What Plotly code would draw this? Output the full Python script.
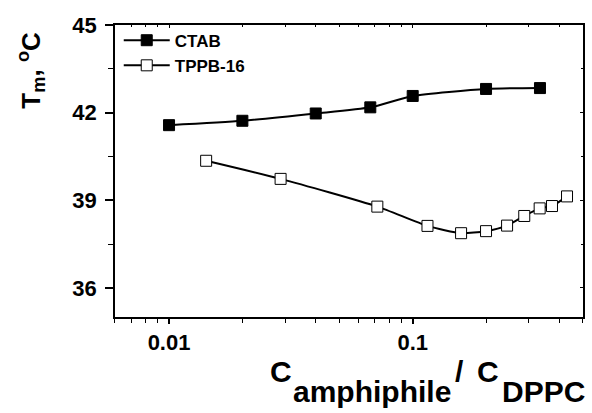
import plotly.graph_objects as go

ctab_x = [0.01, 0.02, 0.04, 0.067, 0.1, 0.2, 0.333]
ctab_y = [41.57, 41.72, 41.97, 42.18, 42.57, 42.81, 42.84]

tppb_x = [0.0142, 0.0287, 0.0716, 0.115, 0.158, 0.2, 0.244, 0.287, 0.332, 0.373, 0.43]
tppb_y = [40.35, 39.73, 38.78, 38.12, 37.87, 37.94, 38.13, 38.46, 38.72, 38.80, 39.13]

x_ticks = [0.01, 0.1]
x_ticklabels = ["0.01", "0.1"]
x_minor = [0.006, 0.007, 0.008, 0.009, 0.02, 0.03, 0.04, 0.05, 0.06, 0.07, 0.08, 0.09,
           0.2, 0.3, 0.4, 0.5]
y_ticks = [36, 39, 42, 45]
y_minor = [37.5, 40.5, 43.5]

FONT = "Liberation Sans, Arial, sans-serif"

fig = go.Figure()
fig.add_trace(go.Scatter(
    x=ctab_x, y=ctab_y, name="CTAB", mode="lines+markers",
    line=dict(color="black", width=2, shape="spline", smoothing=0.6),
    marker=dict(symbol="square", size=11, color="black", line=dict(color="black", width=1)),
))
fig.add_trace(go.Scatter(
    x=tppb_x, y=tppb_y, name="TPPB-16", mode="lines+markers",
    line=dict(color="black", width=2, shape="spline", smoothing=0.6),
    marker=dict(symbol="square", size=11, color="white", line=dict(color="black", width=1)),
))
# invisible trace for mirrored axes
fig.add_trace(go.Scatter(x=[0.01], y=[40], xaxis="x2", yaxis="y2", mode="markers",
                         marker=dict(opacity=0), showlegend=False, hoverinfo="skip"))

xr = [-2.2218, -0.301]
yr = [35, 45]

fig.update_layout(
    width=592, height=413,
    margin=dict(l=115, r=9, t=25, b=96),
    paper_bgcolor="white", plot_bgcolor="white",
    font=dict(family=FONT, color="black", size=22, weight="bold"),
    showlegend=True,
    legend=dict(x=0.008, y=1.008, xanchor="left", yanchor="top",
                bgcolor="rgba(0,0,0,0)", font=dict(size=17, weight="bold"),
                tracegroupgap=0, itemwidth=46),
    xaxis=dict(type="log", range=xr, tickvals=x_ticks, ticktext=x_ticklabels,
               ticks="outside", ticklen=5, tickwidth=1.5, tickcolor="black",
               showline=True, linecolor="black", linewidth=1.5, showgrid=False,
               zeroline=False,
               minor=dict(tickmode="array", tickvals=x_minor, ticks="outside",
                          ticklen=4, tickwidth=1, tickcolor="black", showgrid=False),
               tickfont=dict(size=22, weight="bold")),
    yaxis=dict(range=yr, tickvals=y_ticks,
               ticks="outside", ticklen=8, tickwidth=1.5, tickcolor="black",
               showline=True, linecolor="black", linewidth=1.5, showgrid=False,
               zeroline=False, ticklabelstandoff=4,
               minor=dict(tickmode="array", tickvals=y_minor, ticks="outside",
                          ticklen=5, tickwidth=1, tickcolor="black", showgrid=False),
               tickfont=dict(size=22, weight="bold")),
    xaxis2=dict(type="log", range=xr, overlaying="x", side="top", tickvals=x_ticks,
                showticklabels=False, ticks="inside", ticklen=3, tickwidth=1,
                tickcolor="black", showline=True, linecolor="black", linewidth=1.5,
                showgrid=False, zeroline=False,
                minor=dict(tickmode="array", tickvals=x_minor, ticks="inside",
                           ticklen=2, tickwidth=1, tickcolor="black", showgrid=False)),
    yaxis2=dict(range=yr, overlaying="y", side="right", tickvals=y_ticks,
                showticklabels=False, ticks="inside", ticklen=3, tickwidth=1,
                tickcolor="black", showline=True, linecolor="black", linewidth=1.5,
                showgrid=False, zeroline=False,
                minor=dict(tickmode="array", tickvals=y_minor, ticks="inside",
                           ticklen=2, tickwidth=1, tickcolor="black", showgrid=False)),
)

# x-axis title assembled from pieces (big, deeply lowered subscripts)
PL, PW, PT, PH = 115, 468, 25, 292


def px2paper(px, py):
    return (px - PL) / PW, (PT + PH - py) / PH


def piece(text, px, py, size):
    x, y = px2paper(px, py)
    fig.add_annotation(text=text, xref="paper", yref="paper", x=x, y=y,
                       xanchor="left", yanchor="middle", showarrow=False,
                       borderpad=0,
                       font=dict(size=size, weight="bold", family=FONT))


piece("C", 269, 371, 30)
piece("amphiphile", 292, 391, 30)
piece("/", 454, 371, 30)
piece("C", 476, 371, 30)
piece("DPPC", 501, 391, 30)

fig.add_annotation(
    text="T<sub>m</sub>, <sup>o</sup>C",
    xref="paper", yref="paper", x=-0.18, y=0.985, xanchor="center", yanchor="top",
    textangle=-90, showarrow=False, font=dict(size=26, weight="bold", family=FONT),
)

fig.write_html("out.html")
